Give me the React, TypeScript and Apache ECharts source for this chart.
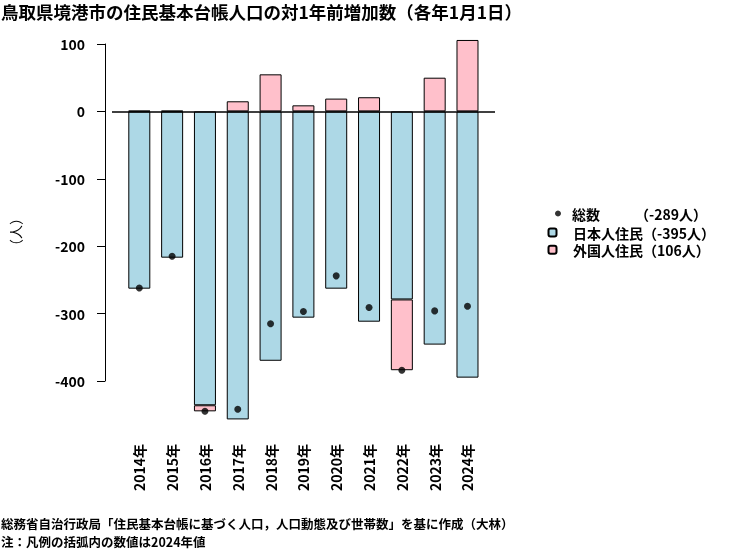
import React, { useEffect, useRef } from 'react';
import * as echarts from 'echarts';

const years = ['2014', '2015', '2016', '2017', '2018', '2019', '2020', '2021', '2022', '2023', '2024'];
const japanese = [-263, -217, -436, -457, -370, -306, -263, -312, -279, -346, -395];
const foreign = [1, 1, -9, 15, 55, 9, 19, 21, -105, 50, 106];
const total = [-262, -215, -445, -442, -315, -297, -244, -291, -384, -296, -289];
const yTickMin = -400;
const yTickMax = 100;
const yTickStep = 100;

const titleText = '鳥取県境港市の住民基本台帳人口の対1年前増加数（各年1月1日）';
const note1 = '総務省自治行政局「住民基本台帳に基づく人口，人口動態及び世帯数」を基に作成（大林）';
const note2 = '注：凡例の括弧内の数値は2024年値';

const FONT = '"Noto Sans CJK JP", "Noto Sans", sans-serif';

export default function App() {
  const ref = useRef<HTMLDivElement>(null);
  useEffect(() => {
    if (!ref.current) return;
    const chart = echarts.init(ref.current, null, { renderer: 'svg' });
    const last = (a: number[]) => a[a.length - 1];
    const legendLabels: Record<string, string> = {
      '総数': '総数　　　（' + last(total) + '人）',
      '日本人住民': '日本人住民（' + last(japanese) + '人）',
      '外国人住民': '外国人住民（' + last(foreign) + '人）',
    };
    chart.setOption({
      animation: false,
      textStyle: { fontFamily: FONT },
      title: {
        text: titleText,
        left: 1,
        top: 2,
        padding: 0,
        textStyle: { fontSize: 17.5, lineHeight: 18, fontWeight: 'bold', color: '#000', fontFamily: FONT },
      },
      legend: [
        {
          data: [{ name: '総数', icon: 'circle' }],
          orient: 'vertical',
          left: 555,
          top: 206,
          padding: 0,
          itemWidth: 6,
          itemHeight: 6,
          formatter: (n: string) => legendLabels[n],
          textStyle: { fontSize: 14, fontWeight: 'bold', color: '#000', fontFamily: FONT, lineHeight: 15, padding: [0, 0, 0, 6] },
        },
        {
          data: ['日本人住民', '外国人住民'],
          orient: 'vertical',
          left: 547.5,
          top: 225,
          padding: 0,
          itemWidth: 8,
          itemHeight: 8,
          itemGap: 2.3,
          formatter: (n: string) => legendLabels[n],
          textStyle: { fontSize: 14, fontWeight: 'bold', color: '#000', fontFamily: FONT, lineHeight: 15, padding: [0, 0, 0, 11.5] },
        },
      ],
      grid: { left: 122.9, right: 266.1, top: 44, bottom: 169 },
      xAxis: {
        type: 'category',
        data: years.map((y) => y + '年'),
        axisLine: { show: false },
        axisTick: { show: false },
        axisLabel: { rotate: 90, margin: 63, fontSize: 14, fontWeight: 'bold', color: '#000', fontFamily: FONT, interval: 0 },
      },
      yAxis: {
        type: 'value',
        min: yTickMin,
        max: yTickMax,
        interval: yTickStep,
        offset: 17.9,
        splitLine: { show: false },
        axisLine: { show: true, lineStyle: { color: '#000', width: 1 } },
        axisTick: { show: true, length: 8, lineStyle: { color: '#000', width: 1 } },
        axisLabel: { margin: 20, fontSize: 14, fontWeight: 'bold', color: '#000', fontFamily: FONT },
      },
      series: [
        {
          name: '日本人住民',
          type: 'bar',
          stack: 'pop',
          data: japanese,
          barWidth: 22,
          clip: false,
          itemStyle: { color: '#ADD8E6', borderColor: '#000', borderWidth: 1 },
        },
        {
          name: '外国人住民',
          type: 'bar',
          stack: 'pop',
          data: foreign,
          barWidth: 22,
          clip: false,
          itemStyle: { color: '#FFC0CB', borderColor: '#000', borderWidth: 1 },
        },
        {
          name: '総数',
          type: 'scatter',
          data: total,
          symbol: 'circle',
          symbolSize: 7,
          clip: false,
          z: 5,
          itemStyle: { color: '#000' },
          markLine: {
            silent: true,
            symbol: ['none', 'none'],
            label: { show: false },
            lineStyle: { color: '#000', width: 1.5, type: 'solid' },
            data: [[{ x: 112, yAxis: 0 }, { x: 495, yAxis: 0 }]],
          },
        },
      ],
      graphic: [
        {
          type: 'text',
          x: 15,
          y: 232,
          rotation: Math.PI / 2,
          style: { text: '（人）', font: '14px ' + FONT, fill: '#000', textAlign: 'center', textVerticalAlign: 'middle' },
        },
        {
          type: 'text',
          x: 1,
          y: 523,
          style: { text: note1, font: 'bold 12.5px ' + FONT, fill: '#000', textAlign: 'left', textVerticalAlign: 'middle' },
        },
        {
          type: 'text',
          x: 1,
          y: 541,
          style: { text: note2, font: 'bold 12.5px ' + FONT, fill: '#000', textAlign: 'left', textVerticalAlign: 'middle' },
        },
      ],
    });
    return () => chart.dispose();
  }, []);
  return <div ref={ref} style={{ position: 'fixed', left: 0, top: 0, width: 750, height: 550 }} />;
}
